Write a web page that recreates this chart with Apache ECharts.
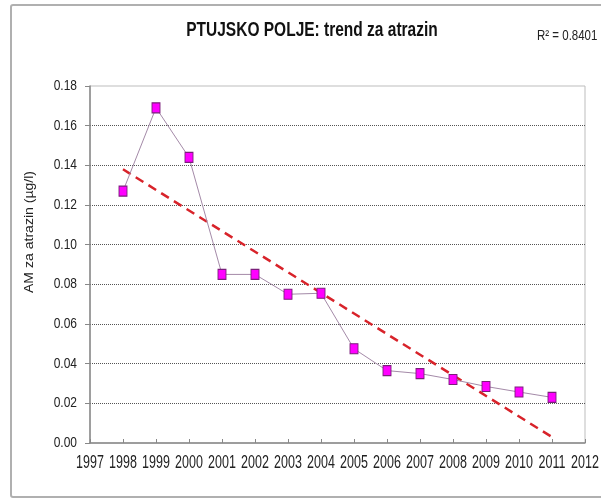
<!DOCTYPE html>
<html>
<head>
<meta charset="utf-8">
<script src="https://cdn.jsdelivr.net/npm/echarts@6/dist/echarts.min.js"></script>
<style>
html,body{margin:0;padding:0;background:#fff;}
#chart{width:601px;height:500px;}
</style>
</head>
<body>
<div id="chart"></div>
<script>
const years = [1998,1999,2000,2001,2002,2003,2004,2005,2006,2007,2008,2009,2010,2011];
const values = [0.127,0.169,0.144,0.085,0.085,0.075,0.0755,0.0475,0.0365,0.035,0.032,0.0285,0.0257,0.023];
const trendYears = [1998, 2011];
const trendValues = [0.138, 0.003];
const xTickLabels = ['1997','1998','1999','2000','2001','2002','2003','2004','2005','2006','2007','2008','2009','2010','2011','2012'];
const yTickLabels = ['0.00','0.02','0.04','0.06','0.08','0.10','0.12','0.14','0.16','0.18'];
const titleText = 'PTUJSKO POLJE: trend za atrazin';
const r2Text = 'R² = 0.8401';
const yName = 'AM za atrazin (µg/l)';

const fam = 'Liberation Sans, Arial, sans-serif';
const chart = echarts.init(document.getElementById('chart'));
chart.setOption({
  animation: false,
  backgroundColor: '#fff',
  grid: {left: 90, top: 86, right: 16, bottom: 57, show: true, borderColor: '#bdbdbd', borderWidth: 1},
  xAxis: {
    type: 'value', min: 1997, max: 2012, interval: 1,
    axisLine: {lineStyle: {color: '#888', width: 1.5}},
    axisTick: {inside: true, length: 4, lineStyle: {color: '#888'}},
    axisLabel: {show: false},
    splitLine: {show: false}
  },
  yAxis: {
    type: 'value', min: 0, max: 0.18, interval: 0.02,
    axisLine: {show: true, lineStyle: {color: '#888', width: 1.5}},
    axisTick: {show: true, length: 5, lineStyle: {color: '#888'}},
    axisLabel: {show: false},
    splitLine: {show: true, showMinLine: false, showMaxLine: false, lineStyle: {color: '#555', type: [1,1], width: 1}}
  },
  series: [
    {
      type: 'line', z: 2,
      data: trendYears.map((y, i) => [y, trendValues[i]]),
      symbol: 'none',
      lineStyle: {color: '#d8232a', width: 2.5, type: [9, 6]}
    },
    {
      type: 'line', z: 3,
      data: years.map((y, i) => [y, values[i]]),
      symbol: 'rect', symbolSize: [8, 10],
      lineStyle: {color: '#a48aa8', width: 1},
      itemStyle: {color: '#ff00ff', borderColor: '#7a1f7a', borderWidth: 1}
    }
  ]
});

const graphics = [
  {type: 'rect', shape: {x: 11, y: 5, width: 620, height: 492, r: 2},
   style: {fill: 'none', stroke: '#b0b0b0', lineWidth: 2}, z: 0},
  {type: 'text', x: 312, y: 31, scaleY: 1.25,
   style: {text: titleText, font: 'bold 15.5px ' + fam, fill: '#111',
           textAlign: 'center', verticalAlign: 'middle', textVerticalAlign: 'middle'}},
  {type: 'text', x: 537, y: 36, scaleY: 1.2,
   style: {text: r2Text, font: '11.5px ' + fam, fill: '#222',
           textAlign: 'left', verticalAlign: 'middle', textVerticalAlign: 'middle'}},
  {type: 'text', x: 30, y: 232, rotation: Math.PI / 2, scaleX: 1.17,
   style: {text: yName, font: '12px ' + fam, fill: '#222',
           textAlign: 'center', verticalAlign: 'middle', textVerticalAlign: 'middle'}}
];
xTickLabels.forEach(lbl => {
  graphics.push({type: 'text', x: chart.convertToPixel({xAxisIndex: 0}, Number(lbl)), y: 463, scaleY: 1.45,
    style: {text: lbl, font: '12.5px ' + fam, fill: '#222',
            textAlign: 'center', verticalAlign: 'middle', textVerticalAlign: 'middle'}});
});
yTickLabels.forEach(lbl => {
  graphics.push({type: 'text', x: 77, y: chart.convertToPixel({yAxisIndex: 0}, Number(lbl)), scaleY: 1.25,
    style: {text: lbl, font: '12px ' + fam, fill: '#222',
            textAlign: 'right', verticalAlign: 'middle', textVerticalAlign: 'middle'}});
});
chart.setOption({graphic: graphics});
</script>
</body>
</html>
